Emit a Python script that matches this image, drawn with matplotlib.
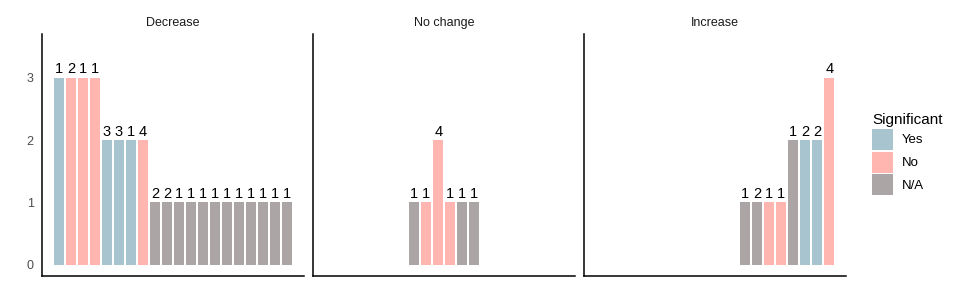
"""Significance counts per direction of change, one facet per direction."""
import matplotlib
matplotlib.use("Agg")
import matplotlib.pyplot as plt
from matplotlib.patches import Patch

plt.rcParams["font.family"] = ["Liberation Sans", "DejaVu Sans"]

COLORS = {"Yes": "#a8c4cf", "No": "#ffb6b0", "N/A": "#aba5a5"}

# Decrease
dec_pos = list(range(1, 21))
dec_height = [3, 3, 3, 3, 2, 2, 2, 2] + [1] * 12
dec_sig = ["Yes", "No", "No", "No", "Yes", "Yes", "Yes", "No"] + ["N/A"] * 12
dec_label = [1, 2, 1, 1, 3, 3, 1, 4, 2, 2] + [1] * 10

# No change
noc_pos = [8, 9, 10, 11, 12, 13]
noc_height = [1, 1, 2, 1, 1, 1]
noc_sig = ["N/A", "No", "No", "No", "N/A", "N/A"]
noc_label = [1, 1, 4, 1, 1, 1]

# Increase
inc_pos = [13, 14, 15, 16, 17, 18, 19, 20]
inc_height = [1, 1, 1, 1, 2, 2, 2, 3]
inc_sig = ["N/A", "N/A", "No", "No", "N/A", "Yes", "Yes", "No"]
inc_label = [1, 2, 1, 1, 1, 2, 2, 4]

PANELS = [
    ("Decrease", dec_pos, dec_height, dec_sig, dec_label),
    ("No change", noc_pos, noc_height, noc_sig, noc_label),
    ("Increase", inc_pos, inc_height, inc_sig, inc_label),
]

fig = plt.figure(figsize=(9.6, 2.88), dpi=100)
lefts = [42, 313.3, 584.3]
width_px = 262
bottom, top = 276, 34

for i, (title, pos, h, sig, lab) in enumerate(PANELS):
    ax = fig.add_axes([lefts[i] / 960, 1 - bottom / 288,
                       width_px / 960, (bottom - top) / 288])
    ax.bar(pos, h, width=0.84, color=[COLORS[s] for s in sig], linewidth=0)
    for x, y, t in zip(pos, h, lab):
        ax.annotate(str(t), (x, y), xytext=(0, 3), textcoords="offset points",
                    ha="center", va="baseline", fontsize=10.5, color="black")
    ax.set_xlim(-0.42, 21.42)
    ax.set_ylim(-0.18, 3.7)
    ax.set_title(title, fontsize=9, pad=6, color="#1a1a1a")
    for s in ("top", "right"):
        ax.spines[s].set_visible(False)
    for s in ("left", "bottom"):
        ax.spines[s].set_linewidth(1.1)
        ax.spines[s].set_color("black")
    ax.set_xticks([])
    ax.set_yticks([0, 1, 2, 3])
    ax.tick_params(axis="y", length=0, pad=6, labelsize=9,
                   labelcolor="#4d4d4d")
    if i > 0:
        ax.set_yticklabels([])

handles = [Patch(facecolor=c, edgecolor="none", label=k)
           for k, c in COLORS.items()]
fig.legend(handles=handles, title="Significant", loc="upper left",
           bbox_to_anchor=(860 / 960, 1 - 101 / 288), frameon=False,
           fontsize=9.5, title_fontsize=11, handlelength=1.6, handleheight=2.07,
           handletextpad=0.65, labelspacing=0.14, alignment="left")

fig.savefig("out.png", dpi=100)
